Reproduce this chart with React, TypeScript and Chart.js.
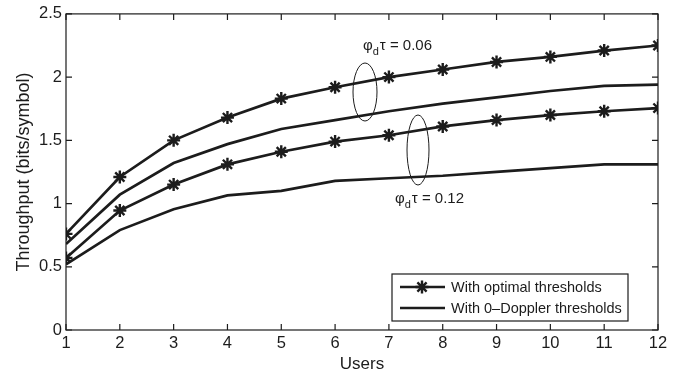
import React, { useEffect, useRef } from "react";
import { Chart, registerables } from "chart.js";

Chart.register(...registerables);

const users = [1, 2, 3, 4, 5, 6, 7, 8, 9, 10, 11, 12];
const optimal006 = [0.76, 1.21, 1.5, 1.68, 1.83, 1.92, 2.0, 2.06, 2.12, 2.16, 2.21, 2.25];
const doppler006 = [0.68, 1.07, 1.32, 1.47, 1.59, 1.66, 1.73, 1.79, 1.84, 1.89, 1.93, 1.94];
const optimal012 = [0.57, 0.945, 1.15, 1.31, 1.41, 1.49, 1.54, 1.61, 1.66, 1.7, 1.73, 1.755];
const doppler012 = [0.52, 0.79, 0.955, 1.065, 1.1, 1.18, 1.2, 1.22, 1.25, 1.28, 1.31, 1.31];
const yTicks = [0, 0.5, 1, 1.5, 2, 2.5];
const legendLabels = ["With optimal thresholds", "With 0\u2013Doppler thresholds"];
const xTitle = "Users";
const yTitle = "Throughput (bits/symbol)";
const annot1 = "0.06";
const annot2 = "0.12";

const FONT = "'Liberation Sans', Arial, Helvetica, sans-serif";
const INK = "#1c1c1c";

const toXY = (ys: number[]) => ys.map((y, i) => ({ x: users[i], y }));

const framePlugin = {
  id: "frame",
  afterDraw(chart: any) {
    const ctx = chart.ctx as CanvasRenderingContext2D;
    const { left, right, top, bottom } = chart.chartArea;
    const xs = chart.scales.x;
    const ys = chart.scales.y;
    ctx.save();
    ctx.strokeStyle = INK;
    ctx.lineWidth = 1.2;
    ctx.strokeRect(left, top, right - left, bottom - top);
    const tl = 6;
    ctx.beginPath();
    users.forEach((u) => {
      const px = xs.getPixelForValue(u);
      ctx.moveTo(px, bottom);
      ctx.lineTo(px, bottom - tl);
      ctx.moveTo(px, top);
      ctx.lineTo(px, top + tl);
    });
    yTicks.forEach((v) => {
      const py = ys.getPixelForValue(v);
      ctx.moveTo(left, py);
      ctx.lineTo(left + tl, py);
      ctx.moveTo(right, py);
      ctx.lineTo(right - tl, py);
    });
    ctx.stroke();

    // axis titles
    ctx.fillStyle = INK;
    ctx.font = `17px ${FONT}`;
    ctx.textAlign = "center";
    ctx.textBaseline = "middle";
    ctx.fillText(xTitle, (left + right) / 2, 364);
    ctx.save();
    ctx.translate(24, 172);
    ctx.rotate(-Math.PI / 2);
    ctx.font = `18px ${FONT}`;
    ctx.fillText(yTitle, 0, 0);
    ctx.restore();

    // ellipses
    ctx.lineWidth = 1;
    ctx.beginPath();
    ctx.ellipse(365, 92, 12, 29, 0, 0, Math.PI * 2);
    ctx.stroke();
    ctx.beginPath();
    ctx.ellipse(418, 150, 11, 35, 0, 0, Math.PI * 2);
    ctx.stroke();

    // annotation labels
    const drawPhi = (x: number, y: number, val: string) => {
      ctx.textAlign = "left";
      ctx.textBaseline = "alphabetic";
      ctx.font = `15px ${FONT}`;
      ctx.fillText("\u03c6", x, y);
      let cx = x + ctx.measureText("\u03c6").width;
      ctx.font = `11px ${FONT}`;
      ctx.fillText("d", cx, y + 5);
      cx += ctx.measureText("d").width + 1;
      ctx.font = `15px ${FONT}`;
      ctx.fillText("\u03c4 = " + val, cx, y);
    };
    drawPhi(363, 50, annot1);
    drawPhi(395, 203, annot2);

    // legend
    const lx = 392, ly = 274, lw = 236, lh = 47;
    ctx.fillStyle = "#ffffff";
    ctx.fillRect(lx, ly, lw, lh);
    ctx.lineWidth = 1.2;
    ctx.strokeStyle = INK;
    ctx.strokeRect(lx, ly, lw, lh);
    const rows = [ly + 13, ly + 34];
    rows.forEach((ry, i) => {
      ctx.lineWidth = 2.6;
      ctx.beginPath();
      ctx.moveTo(lx + 8, ry);
      ctx.lineTo(lx + 53, ry);
      ctx.stroke();
      if (i === 0) {
        const r = 6.5;
        const cxp = lx + 30;
        ctx.lineWidth = 2.4;
        ctx.beginPath();
        for (let k = 0; k < 4; k++) {
          const a = (k * Math.PI) / 4;
          ctx.moveTo(cxp - r * Math.cos(a), ry - r * Math.sin(a));
          ctx.lineTo(cxp + r * Math.cos(a), ry + r * Math.sin(a));
        }
        ctx.stroke();
      }
      ctx.fillStyle = INK;
      ctx.font = `14.5px ${FONT}`;
      ctx.textAlign = "left";
      ctx.textBaseline = "middle";
      ctx.fillText(legendLabels[i], lx + 59, ry + 1);
    });
    ctx.restore();
  },
};

export default function App() {
  const ref = useRef<HTMLCanvasElement | null>(null);
  useEffect(() => {
    if (!ref.current) return;
    const lineDs = (data: number[], star: boolean) => ({
      data: toXY(data),
      borderColor: INK,
      backgroundColor: INK,
      borderWidth: 2.7,
      pointStyle: star ? "star" : "circle",
      pointRadius: star ? 6.5 : 0,
      pointBorderWidth: 2.4,
      pointBorderColor: INK,
      tension: 0,
      fill: false,
    });
    const chart = new Chart(ref.current, {
      type: "line",
      data: {
        datasets: [
          lineDs(optimal006, true),
          lineDs(doppler006, false),
          lineDs(optimal012, true),
          lineDs(doppler012, false),
        ] as any,
      },
      options: {
        animation: false,
        responsive: false,
        devicePixelRatio: 1,
        layout: { padding: { top: 8, right: 35, left: 0, bottom: 0 } },
        plugins: { legend: { display: false }, tooltip: { enabled: false } },
        scales: {
          x: {
            type: "linear",
            min: 1,
            max: 12,
            grid: { display: false, drawTicks: false },
            border: { display: false },
            ticks: {
              stepSize: 1,
              color: INK,
              padding: 4,
              font: { family: FONT, size: 16.5 },
            },
            afterFit: (s: any) => {
              s.height = 47;
            },
          },
          y: {
            min: 0,
            max: 2.5,
            grid: { display: false, drawTicks: false },
            border: { display: false },
            ticks: {
              stepSize: 0.5,
              color: INK,
              padding: 4,
              font: { family: FONT, size: 16.5 },
              callback: (v: any) => String(v),
            },
            afterFit: (s: any) => {
              s.width = 66;
            },
          },
        },
      },
      plugins: [framePlugin],
    } as any);
    return () => chart.destroy();
  }, []);
  return (
    <div style={{ position: "fixed", left: 0, top: 0, width: 693, height: 377, background: "#fff" }}>
      <canvas ref={ref} width={693} height={377} style={{ display: "block" }} />
    </div>
  );
}
